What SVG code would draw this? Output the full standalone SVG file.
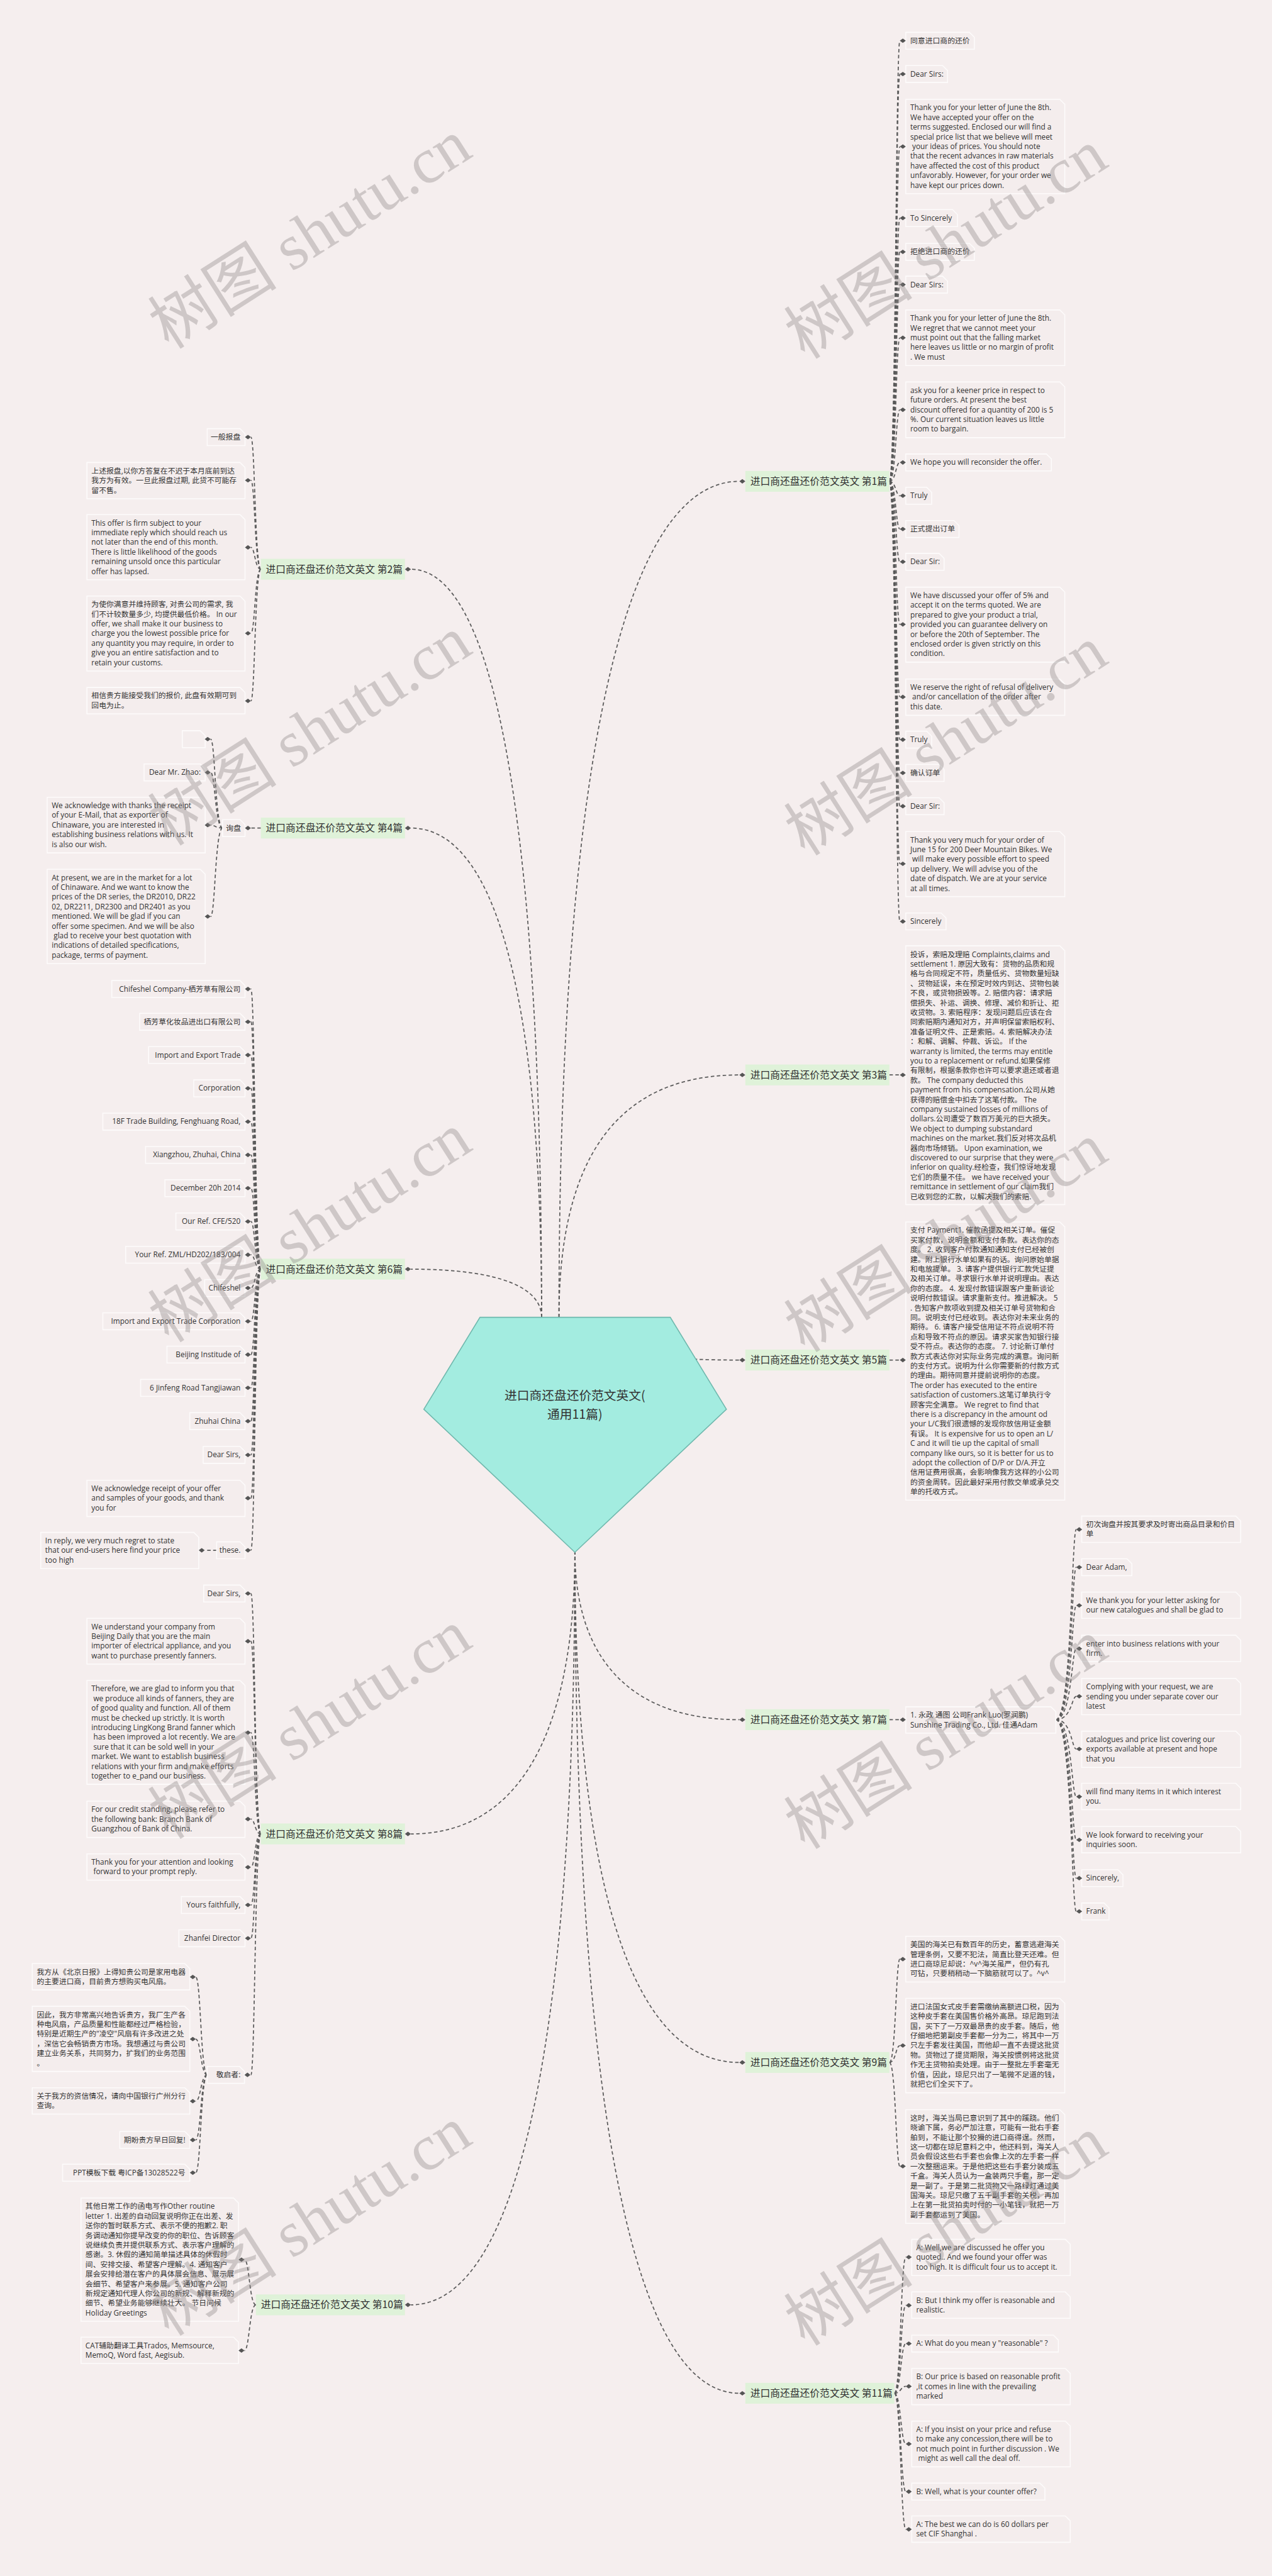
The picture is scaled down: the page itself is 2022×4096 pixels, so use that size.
<svg xmlns="http://www.w3.org/2000/svg" xmlns:xlink="http://www.w3.org/1999/xlink" width="2022" height="4096" viewBox="0 0 2022 4096">
<style>
.c{fill:none;stroke:#5a5a5a;stroke-width:2.2;stroke-dasharray:7 5}
.b{fill:#f4eded;stroke:#fdfbfb;stroke-width:2}
.t{font-family:"Open Sans","Noto Sans CJK SC",sans-serif;font-size:15px;fill:#333}
.r{text-anchor:end}
.l{fill:#dff2d9}
.lt{font-family:"Noto Sans CJK SC",sans-serif;font-size:20px;fill:#333}
.w{font-family:"Liberation Serif","Noto Sans CJK SC",serif;font-size:130px;fill:#8a8484;opacity:.36}
.cn{fill:#a3ece0;stroke:#6fb8ad;stroke-width:2}
.ct{font-family:"Noto Sans CJK SC",sans-serif;font-size:25px;fill:#333;text-anchor:middle}
</style>
<defs>
<path id="dm" d="M-6 0L0-4.5L6 0L0 4.5Z" fill="#555"/>
</defs>
<rect width="2022" height="4096" fill="#f5eeee"/>
<g transform="scale(0.78984)">
<g id="connectors">
<path class="c" d="M1125 2652C1125 1642 1234 969 1488 969"/>
<path class="c" d="M1125 2652C1125 2343 1234 2164 1488 2164"/>
<path class="c" d="M1125 2652C1125 2703 1234 2738 1488 2738"/>
<path class="c" d="M1090 2652C1090 1752 1011 1146 827 1146"/>
<path class="c" d="M1090 2652C1090 2061 1011 1667 827 1667"/>
<path class="c" d="M1090 2652C1090 2594 1011 2555 827 2555"/>
<path class="c" d="M1157 3122C1157 3326 1256 3462 1488 3462"/>
<path class="c" d="M1157 3122C1157 3464 1058 3692 827 3692"/>
<path class="c" d="M1157 3122C1157 3740 1256 4152 1488 4152"/>
<path class="c" d="M1157 3122C1157 4033 1058 4640 827 4640"/>
<path class="c" d="M1157 3122C1157 4139 1256 4818 1488 4818"/>
<path class="c" d="M1790 969C1803 969 1803 82 1811 82"/>
<path class="c" d="M1790 969C1803 969 1803 149 1811 149"/>
<path class="c" d="M1790 969C1803 969 1803 295 1811 295"/>
<path class="c" d="M1790 969C1803 969 1803 439 1811 439"/>
<path class="c" d="M1790 969C1803 969 1803 507 1811 507"/>
<path class="c" d="M1790 969C1803 969 1803 573 1811 573"/>
<path class="c" d="M1790 969C1803 969 1803 680 1811 680"/>
<path class="c" d="M1790 969C1803 969 1803 825 1811 825"/>
<path class="c" d="M1790 969C1803 969 1803 931 1811 931"/>
<path class="c" d="M1790 969C1803 969 1803 998 1811 998"/>
<path class="c" d="M1790 969C1803 969 1803 1065 1811 1065"/>
<path class="c" d="M1790 969C1803 969 1803 1131 1811 1131"/>
<path class="c" d="M1790 969C1803 969 1803 1257 1811 1257"/>
<path class="c" d="M1790 969C1803 969 1803 1403 1811 1403"/>
<path class="c" d="M1790 969C1803 969 1803 1489 1811 1489"/>
<path class="c" d="M1790 969C1803 969 1803 1556 1811 1556"/>
<path class="c" d="M1790 969C1803 969 1803 1623 1811 1623"/>
<path class="c" d="M1790 969C1803 969 1803 1739 1811 1739"/>
<path class="c" d="M1790 969C1803 969 1803 1855 1811 1855"/>
<path class="c" d="M525 1146C513 1146 513 880 505 880"/>
<path class="c" d="M525 1146C513 1146 513 967 505 967"/>
<path class="c" d="M525 1146C513 1146 513 1102 505 1102"/>
<path class="c" d="M525 1146C513 1146 513 1275 505 1275"/>
<path class="c" d="M525 1146C513 1146 513 1411 505 1411"/>
<path class="c" d="M525 1667L505 1667"/>
<path class="c" d="M448 1667C433 1667 433 1488 424 1488"/>
<path class="c" d="M448 1667C433 1667 433 1555 424 1555"/>
<path class="c" d="M448 1667C433 1667 433 1661 424 1661"/>
<path class="c" d="M448 1667C433 1667 433 1845 424 1845"/>
<path class="c" d="M525 2555C513 2555 513 1991 505 1991"/>
<path class="c" d="M525 2555C513 2555 513 2057 505 2057"/>
<path class="c" d="M525 2555C513 2555 513 2124 505 2124"/>
<path class="c" d="M525 2555C513 2555 513 2191 505 2191"/>
<path class="c" d="M525 2555C513 2555 513 2258 505 2258"/>
<path class="c" d="M525 2555C513 2555 513 2325 505 2325"/>
<path class="c" d="M525 2555C513 2555 513 2392 505 2392"/>
<path class="c" d="M525 2555C513 2555 513 2459 505 2459"/>
<path class="c" d="M525 2555C513 2555 513 2526 505 2526"/>
<path class="c" d="M525 2555C513 2555 513 2593 505 2593"/>
<path class="c" d="M525 2555C513 2555 513 2660 505 2660"/>
<path class="c" d="M525 2555C513 2555 513 2727 505 2727"/>
<path class="c" d="M525 2555C513 2555 513 2794 505 2794"/>
<path class="c" d="M525 2555C513 2555 513 2861 505 2861"/>
<path class="c" d="M525 2555C513 2555 513 2929 505 2929"/>
<path class="c" d="M525 2555C513 2555 513 3016 505 3016"/>
<path class="c" d="M525 2555C513 2555 513 3121 505 3121"/>
<path class="c" d="M436 3121L412 3121"/>
<path class="c" d="M525 3692C513 3692 513 3208 505 3208"/>
<path class="c" d="M525 3692C513 3692 513 3304 505 3304"/>
<path class="c" d="M525 3692C513 3692 513 3488 505 3488"/>
<path class="c" d="M525 3692C513 3692 513 3662 505 3662"/>
<path class="c" d="M525 3692C513 3692 513 3759 505 3759"/>
<path class="c" d="M525 3692C513 3692 513 3835 505 3835"/>
<path class="c" d="M525 3692C513 3692 513 3902 505 3902"/>
<path class="c" d="M525 3692C513 3692 513 4177 505 4177"/>
<path class="c" d="M417 4177C404 4177 404 3980 394 3980"/>
<path class="c" d="M417 4177C404 4177 404 4105 394 4105"/>
<path class="c" d="M417 4177C404 4177 404 4230 394 4230"/>
<path class="c" d="M417 4177C404 4177 404 4308 394 4308"/>
<path class="c" d="M417 4177C404 4177 404 4374 394 4374"/>
<path class="c" d="M515 4640C502 4640 502 4549 492 4549"/>
<path class="c" d="M515 4640C502 4640 502 4732 492 4732"/>
<path class="c" d="M1790 2164L1811 2164"/>
<path class="c" d="M1790 2738L1811 2738"/>
<path class="c" d="M1790 3462L1811 3462"/>
<path class="c" d="M2125 3462C2157 3462 2157 3079 2166 3079"/>
<path class="c" d="M2125 3462C2157 3462 2157 3155 2166 3155"/>
<path class="c" d="M2125 3462C2157 3462 2157 3232 2166 3232"/>
<path class="c" d="M2125 3462C2157 3462 2157 3319 2166 3319"/>
<path class="c" d="M2125 3462C2157 3462 2157 3415 2166 3415"/>
<path class="c" d="M2125 3462C2157 3462 2157 3521 2166 3521"/>
<path class="c" d="M2125 3462C2157 3462 2157 3617 2166 3617"/>
<path class="c" d="M2125 3462C2157 3462 2157 3704 2166 3704"/>
<path class="c" d="M2125 3462C2157 3462 2157 3781 2166 3781"/>
<path class="c" d="M2125 3462C2157 3462 2157 3848 2166 3848"/>
<path class="c" d="M1790 4152C1803 4152 1803 3944 1811 3944"/>
<path class="c" d="M1790 4152C1803 4152 1803 4118 1811 4118"/>
<path class="c" d="M1790 4152C1803 4152 1803 4361 1811 4361"/>
<path class="c" d="M1800 4818C1813 4818 1813 4544 1823 4544"/>
<path class="c" d="M1800 4818C1813 4818 1813 4641 1823 4641"/>
<path class="c" d="M1800 4818C1813 4818 1813 4718 1823 4718"/>
<path class="c" d="M1800 4818C1813 4818 1813 4804 1823 4804"/>
<path class="c" d="M1800 4818C1813 4818 1813 4920 1823 4920"/>
<path class="c" d="M1800 4818C1813 4818 1813 5016 1823 5016"/>
<path class="c" d="M1800 4818C1813 4818 1813 5092 1823 5092"/>
</g>

<g id="center">
<path class="cn" d="M966 2652L1349 2652L1462 2837L1157 3125L853 2837Z"/>
<text class="ct" x="1157" y="2818">进口商还盘还价范文英文(</text>
<text class="ct" x="1157" y="2856">通用11篇)</text>
</g>

<g id="label1"><rect class="l" x="1500" y="948" width="290" height="42"/><text class="lt" x="1510" y="976">进口商还盘还价范文英文 第1篇</text><use href="#dm" x="1494" y="969"/></g>
<g id="label3"><rect class="l" x="1500" y="2143" width="290" height="42"/><text class="lt" x="1510" y="2171">进口商还盘还价范文英文 第3篇</text><use href="#dm" x="1494" y="2164"/></g>
<g id="label5"><rect class="l" x="1500" y="2717" width="290" height="42"/><text class="lt" x="1510" y="2745">进口商还盘还价范文英文 第5篇</text><use href="#dm" x="1494" y="2738"/></g>
<g id="label7"><rect class="l" x="1500" y="3441" width="290" height="42"/><text class="lt" x="1510" y="3469">进口商还盘还价范文英文 第7篇</text><use href="#dm" x="1494" y="3462"/></g>
<g id="label9"><rect class="l" x="1500" y="4131" width="290" height="42"/><text class="lt" x="1510" y="4159">进口商还盘还价范文英文 第9篇</text><use href="#dm" x="1494" y="4152"/></g>
<g id="label11"><rect class="l" x="1500" y="4797" width="300" height="42"/><text class="lt" x="1510" y="4825">进口商还盘还价范文英文 第11篇</text><use href="#dm" x="1494" y="4818"/></g>
<g id="label2"><rect class="l" x="525" y="1125" width="290" height="42"/><text class="lt" x="535" y="1153">进口商还盘还价范文英文 第2篇</text><use href="#dm" x="821" y="1146"/></g>
<g id="label4"><rect class="l" x="525" y="1646" width="290" height="42"/><text class="lt" x="535" y="1674">进口商还盘还价范文英文 第4篇</text><use href="#dm" x="821" y="1667"/></g>
<g id="label6"><rect class="l" x="525" y="2534" width="290" height="42"/><text class="lt" x="535" y="2562">进口商还盘还价范文英文 第6篇</text><use href="#dm" x="821" y="2555"/></g>
<g id="label8"><rect class="l" x="525" y="3671" width="290" height="42"/><text class="lt" x="535" y="3699">进口商还盘还价范文英文 第8篇</text><use href="#dm" x="821" y="3692"/></g>
<g id="label10"><rect class="l" x="515" y="4619" width="300" height="42"/><text class="lt" x="525" y="4647">进口商还盘还价范文英文 第10篇</text><use href="#dm" x="821" y="4640"/></g>

<g id="n1-1"><path class="b" d="M1823 65h128l10 10v24h-138z"/><text class="t" x="1832" y="87">同意进口商的还价</text><use href="#dm" x="1817" y="82"/></g>
<g id="n1-2"><path class="b" d="M1823 132h74l10 10v24h-84z"/><text class="t" x="1832" y="154">Dear Sirs:</text><use href="#dm" x="1817" y="149"/></g>
<g id="n1-3"><path class="b" d="M1823 200h310l10 10v180h-320z"/><text class="t"><tspan x="1832" y="222">Thank you for your letter of June the 8th.</tspan><tspan x="1832" dy="19.5">We have accepted your offer on the</tspan><tspan x="1832" dy="19.5">terms suggested. Enclosed our will find a</tspan><tspan x="1832" dy="19.5">special price list that we believe will meet</tspan><tspan x="1832" dy="19.5"> your ideas of prices. You should note</tspan><tspan x="1832" dy="19.5">that the recent advances in raw materials</tspan><tspan x="1832" dy="19.5">have affected the cost of this product</tspan><tspan x="1832" dy="19.5">unfavorably. However, for your order we</tspan><tspan x="1832" dy="19.5">have kept our prices down.</tspan></text><use href="#dm" x="1817" y="295"/></g>
<g id="n1-4"><path class="b" d="M1823 422h94l10 10v24h-104z"/><text class="t" x="1832" y="444">To Sincerely</text><use href="#dm" x="1817" y="439"/></g>
<g id="n1-5"><path class="b" d="M1823 490h128l10 10v24h-138z"/><text class="t" x="1832" y="512">拒绝进口商的还价</text><use href="#dm" x="1817" y="507"/></g>
<g id="n1-6"><path class="b" d="M1823 556h74l10 10v24h-84z"/><text class="t" x="1832" y="578">Dear Sirs:</text><use href="#dm" x="1817" y="573"/></g>
<g id="n1-7"><path class="b" d="M1823 624h310l10 10v102h-320z"/><text class="t"><tspan x="1832" y="646">Thank you for your letter of June the 8th.</tspan><tspan x="1832" dy="19.5">We regret that we cannot meet your</tspan><tspan x="1832" dy="19.5">must point out that the falling market</tspan><tspan x="1832" dy="19.5">here leaves us little or no margin of profit</tspan><tspan x="1832" dy="19.5">. We must</tspan></text><use href="#dm" x="1817" y="680"/></g>
<g id="n1-8"><path class="b" d="M1823 769h310l10 10v102h-320z"/><text class="t"><tspan x="1832" y="791">ask you for a keener price in respect to</tspan><tspan x="1832" dy="19.5">future orders. At present the best</tspan><tspan x="1832" dy="19.5">discount offered for a quantity of 200 is 5</tspan><tspan x="1832" dy="19.5">%. Our current situation leaves us little</tspan><tspan x="1832" dy="19.5">room to bargain.</tspan></text><use href="#dm" x="1817" y="825"/></g>
<g id="n1-9"><path class="b" d="M1823 914h283l10 10v24h-293z"/><text class="t" x="1832" y="936">We hope you will reconsider the offer.</text><use href="#dm" x="1817" y="931"/></g>
<g id="n1-10"><path class="b" d="M1823 981h42l10 10v24h-52z"/><text class="t" x="1832" y="1003">Truly</text><use href="#dm" x="1817" y="998"/></g>
<g id="n1-11"><path class="b" d="M1823 1048h97l10 10v24h-107z"/><text class="t" x="1832" y="1070">正式提出订单</text><use href="#dm" x="1817" y="1065"/></g>
<g id="n1-12"><path class="b" d="M1823 1114h67l10 10v24h-77z"/><text class="t" x="1832" y="1136">Dear Sir:</text><use href="#dm" x="1817" y="1131"/></g>
<g id="n1-13"><path class="b" d="M1823 1182h310l10 10v141h-320z"/><text class="t"><tspan x="1832" y="1204">We have discussed your offer of 5% and</tspan><tspan x="1832" dy="19.5">accept it on the terms quoted. We are</tspan><tspan x="1832" dy="19.5">prepared to give your product a trial,</tspan><tspan x="1832" dy="19.5">provided you can guarantee delivery on</tspan><tspan x="1832" dy="19.5">or before the 20th of September. The</tspan><tspan x="1832" dy="19.5">enclosed order is given strictly on this</tspan><tspan x="1832" dy="19.5">condition.</tspan></text><use href="#dm" x="1817" y="1257"/></g>
<g id="n1-14"><path class="b" d="M1823 1367h310l10 10v63h-320z"/><text class="t"><tspan x="1832" y="1389">We reserve the right of refusal of delivery</tspan><tspan x="1832" dy="19.5"> and/or cancellation of the order after</tspan><tspan x="1832" dy="19.5">this date.</tspan></text><use href="#dm" x="1817" y="1403"/></g>
<g id="n1-15"><path class="b" d="M1823 1472h42l10 10v24h-52z"/><text class="t" x="1832" y="1494">Truly</text><use href="#dm" x="1817" y="1489"/></g>
<g id="n1-16"><path class="b" d="M1823 1539h67l10 10v24h-77z"/><text class="t" x="1832" y="1561">确认订单</text><use href="#dm" x="1817" y="1556"/></g>
<g id="n1-17"><path class="b" d="M1823 1606h67l10 10v24h-77z"/><text class="t" x="1832" y="1628">Dear Sir:</text><use href="#dm" x="1817" y="1623"/></g>
<g id="n1-18"><path class="b" d="M1823 1674h310l10 10v121h-320z"/><text class="t"><tspan x="1832" y="1696">Thank you very much for your order of</tspan><tspan x="1832" dy="19.5">June 15 for 200 Deer Mountain Bikes. We</tspan><tspan x="1832" dy="19.5"> will make every possible effort to speed</tspan><tspan x="1832" dy="19.5">up delivery. We will advise you of the</tspan><tspan x="1832" dy="19.5">date of dispatch. We are at your service</tspan><tspan x="1832" dy="19.5">at all times.</tspan></text><use href="#dm" x="1817" y="1739"/></g>
<g id="n1-19"><path class="b" d="M1823 1838h71l10 10v24h-81z"/><text class="t" x="1832" y="1860">Sincerely</text><use href="#dm" x="1817" y="1855"/></g>

<g id="n2-1"><path class="b" d="M417 863h66l10 10v24h-76z"/><text class="t r" x="484" y="885">一般报盘</text><use href="#dm" x="499" y="880"/></g>
<g id="n2-2"><path class="b" d="M175 931h308l10 10v63h-318z"/><text class="t"><tspan x="184" y="953">上述报盘,以你方答复在不迟于本月底前到达</tspan><tspan x="184" dy="19.5">我方为有效。一旦此报盘过期, 此货不可能存</tspan><tspan x="184" dy="19.5">留不售。</tspan></text><use href="#dm" x="499" y="967"/></g>
<g id="n2-3"><path class="b" d="M175 1036h308l10 10v121h-318z"/><text class="t"><tspan x="184" y="1058">This offer is firm subject to your</tspan><tspan x="184" dy="19.5">immediate reply which should reach us</tspan><tspan x="184" dy="19.5">not later than the end of this month.</tspan><tspan x="184" dy="19.5">There is little likelihood of the goods</tspan><tspan x="184" dy="19.5">remaining unsold once this particular</tspan><tspan x="184" dy="19.5">offer has lapsed.</tspan></text><use href="#dm" x="499" y="1102"/></g>
<g id="n2-4"><path class="b" d="M175 1200h308l10 10v141h-318z"/><text class="t"><tspan x="184" y="1222">为使你满意并维持顾客, 对贵公司的需求, 我</tspan><tspan x="184" dy="19.5">们不计较数量多少, 均提供最低价格。 In our</tspan><tspan x="184" dy="19.5">offer, we shall make it our business to</tspan><tspan x="184" dy="19.5">charge you the lowest possible price for</tspan><tspan x="184" dy="19.5">any quantity you may require, in order to</tspan><tspan x="184" dy="19.5">give you an entire satisfaction and to</tspan><tspan x="184" dy="19.5">retain your customs.</tspan></text><use href="#dm" x="499" y="1275"/></g>
<g id="n2-5"><path class="b" d="M175 1384h308l10 10v43h-318z"/><text class="t"><tspan x="184" y="1406">相信贵方能接受我们的报价, 此盘有效期可到</tspan><tspan x="184" dy="19.5">回电为止。</tspan></text><use href="#dm" x="499" y="1411"/></g>

<g id="n4-0"><path class="b" d="M448 1650h35l10 10v24h-45z"/><text class="t" x="455" y="1672">询盘</text><use href="#dm" x="499" y="1667"/></g>
<g id="n4-1"><path class="b" d="M367 1471h36l10 10v24h-46z"/><use href="#dm" x="418" y="1488"/></g>
<g id="n4-2"><path class="b" d="M290 1538h113l10 10v24h-123z"/><text class="t r" x="404" y="1560">Dear Mr. Zhao:</text><use href="#dm" x="418" y="1555"/></g>
<g id="n4-3"><path class="b" d="M95 1605h308l10 10v102h-318z"/><text class="t"><tspan x="104" y="1627">We acknowledge with thanks the receipt</tspan><tspan x="104" dy="19.5">of your E-Mail, that as exporter of</tspan><tspan x="104" dy="19.5">Chinaware, you are interested in</tspan><tspan x="104" dy="19.5">establishing business relations with us. It</tspan><tspan x="104" dy="19.5">is also our wish.</tspan></text><use href="#dm" x="418" y="1661"/></g>
<g id="n4-4"><path class="b" d="M95 1750h308l10 10v180h-318z"/><text class="t"><tspan x="104" y="1772">At present, we are in the market for a lot</tspan><tspan x="104" dy="19.5">of Chinaware. And we want to know the</tspan><tspan x="104" dy="19.5">prices of the DR series, the DR2010, DR22</tspan><tspan x="104" dy="19.5">02, DR2211, DR2300 and DR2401 as you</tspan><tspan x="104" dy="19.5">mentioned. We will be glad if you can</tspan><tspan x="104" dy="19.5">offer some specimen. And we will be also</tspan><tspan x="104" dy="19.5"> glad to receive your best quotation with</tspan><tspan x="104" dy="19.5">indications of detailed specifications,</tspan><tspan x="104" dy="19.5">package, terms of payment.</tspan></text><use href="#dm" x="418" y="1845"/></g>

<g id="n6-1"><path class="b" d="M225 1974h258l10 10v24h-268z"/><text class="t r" x="484" y="1996">Chifeshel Company-栖芳草有限公司</text><use href="#dm" x="499" y="1991"/></g>
<g id="n6-2"><path class="b" d="M281 2040h202l10 10v24h-212z"/><text class="t r" x="484" y="2062">栖芳草化妆品进出口有限公司</text><use href="#dm" x="499" y="2057"/></g>
<g id="n6-3"><path class="b" d="M299 2107h184l10 10v24h-194z"/><text class="t r" x="484" y="2129">Import and Export Trade</text><use href="#dm" x="499" y="2124"/></g>
<g id="n6-4"><path class="b" d="M390 2174h93l10 10v24h-103z"/><text class="t r" x="484" y="2196">Corporation</text><use href="#dm" x="499" y="2191"/></g>
<g id="n6-5"><path class="b" d="M207 2241h276l10 10v24h-286z"/><text class="t r" x="484" y="2263">18F Trade Building, Fenghuang Road,</text><use href="#dm" x="499" y="2258"/></g>
<g id="n6-6"><path class="b" d="M293 2308h190l10 10v24h-200z"/><text class="t r" x="484" y="2330">Xiangzhou, Zhuhai, China</text><use href="#dm" x="499" y="2325"/></g>
<g id="n6-7"><path class="b" d="M332 2375h151l10 10v24h-161z"/><text class="t r" x="484" y="2397">December 20h 2014</text><use href="#dm" x="499" y="2392"/></g>
<g id="n6-8"><path class="b" d="M354 2442h129l10 10v24h-139z"/><text class="t r" x="484" y="2464">Our Ref. CFE/520</text><use href="#dm" x="499" y="2459"/></g>
<g id="n6-9"><path class="b" d="M253 2509h230l10 10v24h-240z"/><text class="t r" x="484" y="2531">Your Ref. ZML/HD202/183/004</text><use href="#dm" x="499" y="2526"/></g>
<g id="n6-10"><path class="b" d="M412 2576h71l10 10v24h-81z"/><text class="t r" x="484" y="2598">Chifeshel</text><use href="#dm" x="499" y="2593"/></g>
<g id="n6-11"><path class="b" d="M207 2643h276l10 10v24h-286z"/><text class="t r" x="484" y="2665">Import and Export Trade Corporation</text><use href="#dm" x="499" y="2660"/></g>
<g id="n6-12"><path class="b" d="M336 2710h147l10 10v24h-157z"/><text class="t r" x="484" y="2732">Beijing Institude of</text><use href="#dm" x="499" y="2727"/></g>
<g id="n6-13"><path class="b" d="M283 2777h200l10 10v24h-210z"/><text class="t r" x="484" y="2799">6 Jinfeng Road Tangjiawan</text><use href="#dm" x="499" y="2794"/></g>
<g id="n6-14"><path class="b" d="M382 2844h101l10 10v24h-111z"/><text class="t r" x="484" y="2866">Zhuhai China</text><use href="#dm" x="499" y="2861"/></g>
<g id="n6-15"><path class="b" d="M409 2912h74l10 10v24h-84z"/><text class="t r" x="484" y="2934">Dear Sirs,</text><use href="#dm" x="499" y="2929"/></g>
<g id="n6-16"><path class="b" d="M175 2980h308l10 10v63h-318z"/><text class="t"><tspan x="184" y="3002">We acknowledge receipt of your offer</tspan><tspan x="184" dy="19.5">and samples of your goods, and thank</tspan><tspan x="184" dy="19.5">you for</tspan></text><use href="#dm" x="499" y="3016"/></g>
<g id="n6-17"><path class="b" d="M436 3104h47l10 10v24h-57z"/><text class="t r" x="484" y="3126">these.</text><use href="#dm" x="499" y="3121"/></g>
<g id="n6-18"><path class="b" d="M82 3085h308l10 10v63h-318z"/><text class="t"><tspan x="91" y="3107">In reply, we very much regret to state</tspan><tspan x="91" dy="19.5">that our end-users here find your price</tspan><tspan x="91" dy="19.5">too high</tspan></text><use href="#dm" x="406" y="3121"/></g>

<g id="n8-1"><path class="b" d="M410 3191h73l10 10v24h-83z"/><text class="t r" x="484" y="3213">Dear Sirs,</text><use href="#dm" x="499" y="3208"/></g>
<g id="n8-2"><path class="b" d="M175 3258h308l10 10v82h-318z"/><text class="t"><tspan x="184" y="3280">We understand your company from</tspan><tspan x="184" dy="19.5">Beijing Daily that you are the main</tspan><tspan x="184" dy="19.5">importer of electrical appliance, and you</tspan><tspan x="184" dy="19.5">want to purchase presently fanners.</tspan></text><use href="#dm" x="499" y="3304"/></g>
<g id="n8-3"><path class="b" d="M175 3383h308l10 10v199h-318z"/><text class="t"><tspan x="184" y="3405">Therefore, we are glad to inform you that</tspan><tspan x="184" dy="19.5"> we produce all kinds of fanners, they are</tspan><tspan x="184" dy="19.5">of good quality and function. All of them</tspan><tspan x="184" dy="19.5">must be checked up strictly. It is worth</tspan><tspan x="184" dy="19.5">introducing LingKong Brand fanner which</tspan><tspan x="184" dy="19.5"> has been improved a lot recently. We are</tspan><tspan x="184" dy="19.5"> sure that it can be sold well in your</tspan><tspan x="184" dy="19.5">market. We want to establish business</tspan><tspan x="184" dy="19.5">relations with your firm and make efforts</tspan><tspan x="184" dy="19.5">together to e_pand our business.</tspan></text><use href="#dm" x="499" y="3488"/></g>
<g id="n8-4"><path class="b" d="M175 3626h308l10 10v63h-318z"/><text class="t"><tspan x="184" y="3648">For our credit standing, please refer to</tspan><tspan x="184" dy="19.5">the following bank: Branch Bank of</tspan><tspan x="184" dy="19.5">Guangzhou of Bank of China.</tspan></text><use href="#dm" x="499" y="3662"/></g>
<g id="n8-5"><path class="b" d="M175 3732h308l10 10v43h-318z"/><text class="t"><tspan x="184" y="3754">Thank you for your attention and looking</tspan><tspan x="184" dy="19.5"> forward to your prompt reply.</tspan></text><use href="#dm" x="499" y="3759"/></g>
<g id="n8-6"><path class="b" d="M365 3818h118l10 10v24h-128z"/><text class="t r" x="484" y="3840">Yours faithfully,</text><use href="#dm" x="499" y="3835"/></g>
<g id="n8-7"><path class="b" d="M360 3885h123l10 10v24h-133z"/><text class="t r" x="484" y="3907">Zhanfei Director</text><use href="#dm" x="499" y="3902"/></g>
<g id="n8-8"><path class="b" d="M417 4160h65l10 10v24h-75z"/><text class="t r" x="484" y="4182">敬启者:</text><use href="#dm" x="498" y="4177"/></g>
<g id="n8-9"><path class="b" d="M65 3953h307l10 10v43h-317z"/><text class="t"><tspan x="74" y="3975">我方从《北京日报》上得知贵公司是家用电器</tspan><tspan x="74" dy="19.5">的主要进口商，目前贵方想购买电风扇。</tspan></text><use href="#dm" x="388" y="3980"/></g>
<g id="n8-10"><path class="b" d="M65 4039h307l10 10v121h-317z"/><text class="t"><tspan x="74" y="4061">因此，我方非常高兴地告诉贵方，我厂生产各</tspan><tspan x="74" dy="19.5">种电风扇，产品质量和性能都经过严格检验，</tspan><tspan x="74" dy="19.5">特别是近期生产的"凌空"风扇有许多改进之处</tspan><tspan x="74" dy="19.5">，深信它会畅销贵方市场。我想通过与贵公司</tspan><tspan x="74" dy="19.5">建立业务关系，共同努力，扩我们的业务范围</tspan><tspan x="74" dy="19.5">。</tspan></text><use href="#dm" x="388" y="4105"/></g>
<g id="n8-11"><path class="b" d="M65 4203h307l10 10v43h-317z"/><text class="t"><tspan x="74" y="4225">关于我方的资信情况，请向中国银行广州分行</tspan><tspan x="74" dy="19.5">查询。</tspan></text><use href="#dm" x="388" y="4230"/></g>
<g id="n8-12"><path class="b" d="M241 4291h131l10 10v24h-141z"/><text class="t r" x="373" y="4313">期盼贵方早日回复!</text><use href="#dm" x="388" y="4308"/></g>
<g id="n8-13"><path class="b" d="M126 4357h246l10 10v24h-256z"/><text class="t r" x="373" y="4379">PPT模板下载  粤ICP备13028522号</text><use href="#dm" x="388" y="4374"/></g>

<g id="n10-1"><path class="b" d="M163 4425h307l10 10v238h-317z"/><text class="t"><tspan x="172" y="4447">其他日常工作的函电写作Other routine</tspan><tspan x="172" dy="19.5">letter 1. 出差的自动回复说明你正在出差、发</tspan><tspan x="172" dy="19.5">送你的暂时联系方式、表示不便的抱歉2. 职</tspan><tspan x="172" dy="19.5">务调动通知你提早改变的你的职位、告诉顾客</tspan><tspan x="172" dy="19.5">说继续负责并提供联系方式、表示客户理解的</tspan><tspan x="172" dy="19.5">感谢。3. 休假的通知简单描述具体的休假时</tspan><tspan x="172" dy="19.5">间、安排交接、希望客户理解。4. 通知客户</tspan><tspan x="172" dy="19.5">展会安排给潜在客户的具体展会信息、展示展</tspan><tspan x="172" dy="19.5">会细节、希望客户来参展。5. 通知客户公司</tspan><tspan x="172" dy="19.5">新规定通知代理人你公司的新规、解释新规的</tspan><tspan x="172" dy="19.5">细节、希望业务能够继续壮大。 节日问候</tspan><tspan x="172" dy="19.5">Holiday Greetings</tspan></text><use href="#dm" x="486" y="4549"/></g>
<g id="n10-2"><path class="b" d="M163 4705h307l10 10v43h-317z"/><text class="t"><tspan x="172" y="4727">CAT辅助翻译工具Trados, Memsource,</tspan><tspan x="172" dy="19.5">MemoQ, Word fast, Aegisub.</tspan></text><use href="#dm" x="486" y="4732"/></g>

<g id="n3-1"><path class="b" d="M1823 1904h310l10 10v511h-320z"/><text class="t"><tspan x="1832" y="1926.5">投诉，索赔及理赔 Complaints,claims and</tspan><tspan x="1832" dy="19.5">settlement 1. 原因大致有：货物的品质和规</tspan><tspan x="1832" dy="19.5">格与合同规定不符，质量低劣、货物数量短缺</tspan><tspan x="1832" dy="19.5">、货物延误，未在预定时效内到达、货物包装</tspan><tspan x="1832" dy="19.5">不良，或货物损毁等。2. 赔偿内容：请求赔</tspan><tspan x="1832" dy="19.5">偿损失、补运、调换、修理、减价和折让、拒</tspan><tspan x="1832" dy="19.5">收货物。3. 索赔程序：发现问题后应该在合</tspan><tspan x="1832" dy="19.5">同索赔期内通知对方，并声明保留索赔权利、</tspan><tspan x="1832" dy="19.5">准备证明文件、正是索赔。4. 索赔解决办法</tspan><tspan x="1832" dy="19.5">：和解、调解、仲裁、诉讼。  If the</tspan><tspan x="1832" dy="19.5">warranty is limited, the terms may entitle</tspan><tspan x="1832" dy="19.5">you to a replacement or refund.如果保修</tspan><tspan x="1832" dy="19.5">有限制，根据条款你也许可以要求退还或者退</tspan><tspan x="1832" dy="19.5">款。 The company deducted this</tspan><tspan x="1832" dy="19.5">payment from his compensation.公司从她</tspan><tspan x="1832" dy="19.5">获得的赔偿金中扣去了这笔付款。 The</tspan><tspan x="1832" dy="19.5">company sustained losses of millions of</tspan><tspan x="1832" dy="19.5">dollars.公司遭受了数百万美元的巨大损失。</tspan><tspan x="1832" dy="19.5">We object to dumping substandard</tspan><tspan x="1832" dy="19.5">machines on the market.我们反对将次品机</tspan><tspan x="1832" dy="19.5">器向市场倾销。 Upon examination, we</tspan><tspan x="1832" dy="19.5">discovered to our surprise that they were</tspan><tspan x="1832" dy="19.5">inferior on quality.经检查，我们惊讶地发现</tspan><tspan x="1832" dy="19.5">它们的质量不佳。 we have received your</tspan><tspan x="1832" dy="19.5">remittance in settlement of our claim我们</tspan><tspan x="1832" dy="19.5">已收到您的汇款，以解决我们的索赔.</tspan></text><use href="#dm" x="1817" y="2164"/></g>

<g id="n5-1"><path class="b" d="M1823 2460h310l10 10v550h-320z"/><text class="t"><tspan x="1832" y="2482">支付 Payment1. 催款函提及相关订单。催促</tspan><tspan x="1832" dy="19.5">买家付款，说明金额和支付条款。表达你的态</tspan><tspan x="1832" dy="19.5">度。 2. 收到客户付款通知通知支付已经被创</tspan><tspan x="1832" dy="19.5">建。附上银行水单如果有的话。询问原始单据</tspan><tspan x="1832" dy="19.5">和电放提单。 3. 请客户提供银行汇款凭证提</tspan><tspan x="1832" dy="19.5">及相关订单。寻求银行水单并说明理由。表达</tspan><tspan x="1832" dy="19.5">你的态度。 4. 发现付款错误跟客户重新谈论</tspan><tspan x="1832" dy="19.5">说明付款错误。请求重新支付。推进解决。 5</tspan><tspan x="1832" dy="19.5">. 告知客户款项收到提及相关订单号货物和合</tspan><tspan x="1832" dy="19.5">同。说明支付已经收到。表达你对未来业务的</tspan><tspan x="1832" dy="19.5">期待。 6. 请客户接受信用证不符点说明不符</tspan><tspan x="1832" dy="19.5">点和导致不符点的原因。请求买家告知银行接</tspan><tspan x="1832" dy="19.5">受不符点。表达你的态度。 7. 讨论新订单付</tspan><tspan x="1832" dy="19.5">款方式表达你对实际业务完成的满意。询问新</tspan><tspan x="1832" dy="19.5">的支付方式。说明为什么你需要新的付款方式</tspan><tspan x="1832" dy="19.5">的理由。期待同意并提前说明你的态度。</tspan><tspan x="1832" dy="19.5">The order has executed to the entire</tspan><tspan x="1832" dy="19.5">satisfaction of customers.这笔订单执行令</tspan><tspan x="1832" dy="19.5">顾客完全满意。 We regret to find that</tspan><tspan x="1832" dy="19.5">there is a discrepancy in the amount od</tspan><tspan x="1832" dy="19.5">your L/C我们很遗憾的发现你放信用证金额</tspan><tspan x="1832" dy="19.5">有误。 It is expensive for us to open an L/</tspan><tspan x="1832" dy="19.5">C and it will tie up the capital of small</tspan><tspan x="1832" dy="19.5">company like ours, so it is better for us to</tspan><tspan x="1832" dy="19.5"> adopt the collection of D/P or D/A.开立</tspan><tspan x="1832" dy="19.5">信用证费用很高，会影响像我方这样的小公司</tspan><tspan x="1832" dy="19.5">的资金周转。因此最好采用付款交单或承兑交</tspan><tspan x="1832" dy="19.5">单的托收方式。</tspan></text><use href="#dm" x="1817" y="2738"/></g>

<g id="n7-0"><path class="b" d="M1823 3436h292l10 10v43h-302z"/><text class="t"><tspan x="1832" y="3458">1. 永政 通图 公司Frank Luo(罗润鹏)</tspan><tspan x="1832" dy="19.5">Sunshine Trading Co., Ltd. 佳通Adam</tspan></text><use href="#dm" x="1817" y="3462"/></g>
<g id="n7-1"><path class="b" d="M2177 3052h310l10 10v43h-320z"/><text class="t"><tspan x="2186" y="3074">初次询盘并按其要求及时寄出商品目录和价目</tspan><tspan x="2186" dy="19.5">单</tspan></text><use href="#dm" x="2172" y="3079"/></g>
<g id="n7-2"><path class="b" d="M2177 3138h91l10 10v24h-101z"/><text class="t" x="2186" y="3160">Dear Adam,</text><use href="#dm" x="2172" y="3155"/></g>
<g id="n7-3"><path class="b" d="M2177 3205h310l10 10v43h-320z"/><text class="t"><tspan x="2186" y="3227">We thank you for your letter asking for</tspan><tspan x="2186" dy="19.5">our new catalogues and shall be glad to</tspan></text><use href="#dm" x="2172" y="3232"/></g>
<g id="n7-4"><path class="b" d="M2177 3292h310l10 10v43h-320z"/><text class="t"><tspan x="2186" y="3314">enter into business relations with your</tspan><tspan x="2186" dy="19.5">firm.</tspan></text><use href="#dm" x="2172" y="3319"/></g>
<g id="n7-5"><path class="b" d="M2177 3379h310l10 10v63h-320z"/><text class="t"><tspan x="2186" y="3401">Complying with your request, we are</tspan><tspan x="2186" dy="19.5">sending you under separate cover our</tspan><tspan x="2186" dy="19.5">latest</tspan></text><use href="#dm" x="2172" y="3415"/></g>
<g id="n7-6"><path class="b" d="M2177 3485h310l10 10v63h-320z"/><text class="t"><tspan x="2186" y="3507">catalogues and price list covering our</tspan><tspan x="2186" dy="19.5">exports available at present and hope</tspan><tspan x="2186" dy="19.5">that you</tspan></text><use href="#dm" x="2172" y="3521"/></g>
<g id="n7-7"><path class="b" d="M2177 3590h310l10 10v43h-320z"/><text class="t"><tspan x="2186" y="3612">will find many items in it which interest</tspan><tspan x="2186" dy="19.5">you.</tspan></text><use href="#dm" x="2172" y="3617"/></g>
<g id="n7-8"><path class="b" d="M2177 3677h310l10 10v43h-320z"/><text class="t"><tspan x="2186" y="3699">We look forward to receiving your</tspan><tspan x="2186" dy="19.5">inquiries soon.</tspan></text><use href="#dm" x="2172" y="3704"/></g>
<g id="n7-9"><path class="b" d="M2177 3764h73l10 10v24h-83z"/><text class="t" x="2186" y="3786">Sincerely,</text><use href="#dm" x="2172" y="3781"/></g>
<g id="n7-10"><path class="b" d="M2177 3831h45l10 10v24h-55z"/><text class="t" x="2186" y="3853">Frank</text><use href="#dm" x="2172" y="3848"/></g>

<g id="n9-1"><path class="b" d="M1823 3898h310l10 10v82h-320z"/><text class="t"><tspan x="1832" y="3920">美国的海关已有数百年的历史，蓄意逃避海关</tspan><tspan x="1832" dy="19.5">管理条例，又要不犯法，简直比登天还难。但</tspan><tspan x="1832" dy="19.5">进口商琼尼却说：^v^海关虽严，但仍有孔</tspan><tspan x="1832" dy="19.5">可钻，只要稍稍动一下脑筋就可以了。^v^</tspan></text><use href="#dm" x="1817" y="3944"/></g>
<g id="n9-2"><path class="b" d="M1823 4023h310l10 10v180h-320z"/><text class="t"><tspan x="1832" y="4045">进口法国女式皮手套需缴纳高额进口税，因为</tspan><tspan x="1832" dy="19.5">这种皮手套在美国售价格外高昂。琼尼跑到法</tspan><tspan x="1832" dy="19.5">国，买下了一万双最昂贵的皮手套。随后，他</tspan><tspan x="1832" dy="19.5">仔细地把第副皮手套都一分为二，将其中一万</tspan><tspan x="1832" dy="19.5">只左手套发往美国，而他却一直不去提这批货</tspan><tspan x="1832" dy="19.5">物。货物过了提货期限，海关按惯例将这批货</tspan><tspan x="1832" dy="19.5">作无主货物拍卖处理。由于一整批左手套毫无</tspan><tspan x="1832" dy="19.5">价值，因此，琼尼只出了一笔微不足道的钱，</tspan><tspan x="1832" dy="19.5">就把它们全买下了。</tspan></text><use href="#dm" x="1817" y="4118"/></g>
<g id="n9-3"><path class="b" d="M1823 4247h310l10 10v219h-320z"/><text class="t"><tspan x="1832" y="4269">这时，海关当局已意识到了其中的蹊跷。他们</tspan><tspan x="1832" dy="19.5">晓谕下属，务必严加注意，可能有一批右手套</tspan><tspan x="1832" dy="19.5">舶到，不能让那个狡猾的进口商得逞。然而，</tspan><tspan x="1832" dy="19.5">这一切都在琼尼意料之中，他还料到，海关人</tspan><tspan x="1832" dy="19.5">员会假设这些右手套也会像上次的左手套一样</tspan><tspan x="1832" dy="19.5">一次整捆运来。于是他把这些右手套分装成五</tspan><tspan x="1832" dy="19.5">千盒。海关人员认为一盒装两只手套，那一定</tspan><tspan x="1832" dy="19.5">是一副了。于是第二批货物又一路绿灯通过美</tspan><tspan x="1832" dy="19.5">国海关。琼尼只缴了五千副手套的关税，再加</tspan><tspan x="1832" dy="19.5">上在第一批货拍卖时付的一小笔钱，就把一万</tspan><tspan x="1832" dy="19.5">副手套都运到了美国。</tspan></text><use href="#dm" x="1817" y="4361"/></g>

<g id="n11-1"><path class="b" d="M1835 4508h309l10 10v63h-319z"/><text class="t"><tspan x="1844" y="4530">A: Well,we are discussed he offer you</tspan><tspan x="1844" dy="19.5">quoted.. And we found your offer was</tspan><tspan x="1844" dy="19.5">too high. It is difficult four us to accept it.</tspan></text><use href="#dm" x="1829" y="4544"/></g>
<g id="n11-2"><path class="b" d="M1835 4614h309l10 10v43h-319z"/><text class="t"><tspan x="1844" y="4636">B: But I think my offer is reasonable and</tspan><tspan x="1844" dy="19.5">realistic.</tspan></text><use href="#dm" x="1829" y="4641"/></g>
<g id="n11-3"><path class="b" d="M1835 4701h285l10 10v24h-295z"/><text class="t" x="1844" y="4723">A: What do you mean y "reasonable" ?</text><use href="#dm" x="1829" y="4718"/></g>
<g id="n11-4"><path class="b" d="M1835 4768h309l10 10v63h-319z"/><text class="t"><tspan x="1844" y="4790">B: Our price is based on reasonable profit</tspan><tspan x="1844" dy="19.5">,it comes in line with the prevailing</tspan><tspan x="1844" dy="19.5">marked</tspan></text><use href="#dm" x="1829" y="4804"/></g>
<g id="n11-5"><path class="b" d="M1835 4874h309l10 10v82h-319z"/><text class="t"><tspan x="1844" y="4896">A: If you insist on your price and refuse</tspan><tspan x="1844" dy="19.5">to make any concession,there will be to</tspan><tspan x="1844" dy="19.5">not much point in further discussion . We</tspan><tspan x="1844" dy="19.5"> might as well call the deal off.</tspan></text><use href="#dm" x="1829" y="4920"/></g>
<g id="n11-6"><path class="b" d="M1835 4999h258l10 10v24h-268z"/><text class="t" x="1844" y="5021">B: Well, what is your counter offer?</text><use href="#dm" x="1829" y="5016"/></g>
<g id="n11-7"><path class="b" d="M1835 5065h309l10 10v43h-319z"/><text class="t"><tspan x="1844" y="5087">A: The best we can do is 60 dollars per</tspan><tspan x="1844" dy="19.5">set CIF Shanghai .</tspan></text><use href="#dm" x="1829" y="5092"/></g>

<g id="watermarks">
<text class="w" transform="translate(340 705) rotate(-32.5)">树图 shutu.cn</text>
<text class="w" transform="translate(1620 725) rotate(-32.5)">树图 shutu.cn</text>
<text class="w" transform="translate(340 1705) rotate(-32.5)">树图 shutu.cn</text>
<text class="w" transform="translate(1620 1725) rotate(-32.5)">树图 shutu.cn</text>
<text class="w" transform="translate(340 2705) rotate(-32.5)">树图 shutu.cn</text>
<text class="w" transform="translate(1620 2725) rotate(-32.5)">树图 shutu.cn</text>
<text class="w" transform="translate(340 3705) rotate(-32.5)">树图 shutu.cn</text>
<text class="w" transform="translate(1620 3725) rotate(-32.5)">树图 shutu.cn</text>
<text class="w" transform="translate(340 4705) rotate(-32.5)">树图 shutu.cn</text>
<text class="w" transform="translate(1620 4725) rotate(-32.5)">树图 shutu.cn</text>
</g>
</g>
</svg>
